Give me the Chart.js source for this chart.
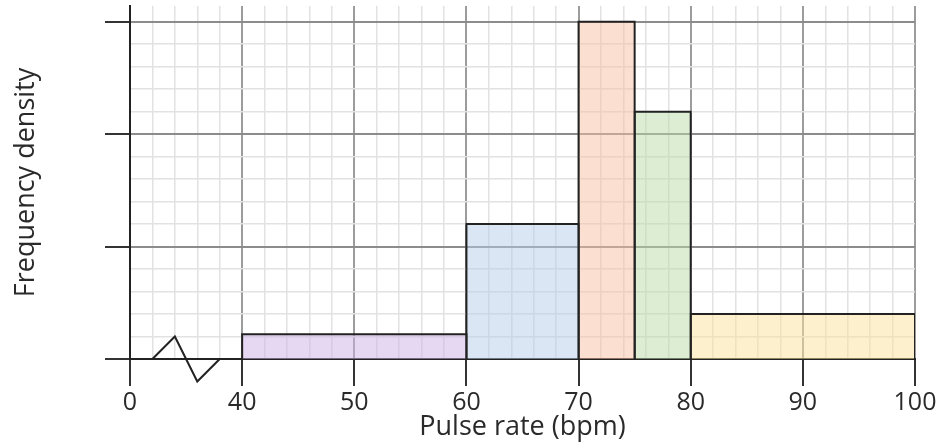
<!DOCTYPE html>
<html>
<head>
<meta charset="utf-8">
<script src="https://cdn.jsdelivr.net/npm/chart.js@4/dist/chart.umd.min.js"></script>
<style>
  html, body { margin: 0; padding: 0; background: #fff; }
  #wrap { width: 945px; height: 444px; position: relative; }
</style>
</head>
<body>
<div id="wrap"><canvas id="hist"></canvas></div>
<script>
// Histogram data: class boundaries and frequency density per class
const classEdges = [40, 60, 70, 75, 80, 100];
const densities = [0.22, 1.2, 3.0, 2.2, 0.4];
const barFills = ['rgba(205,177,229,0.5)', 'rgba(181,205,231,0.5)', 'rgba(247,193,165,0.5)',
                  'rgba(185,219,169,0.5)', 'rgba(251,225,153,0.5)'];

// x axis: position 30 stands for 0 (axis break between 0 and 40)
const xTickPositions = [30, 40, 50, 60, 70, 80, 90, 100];
const xTickLabels = ['0', '40', '50', '60', '70', '80', '90', '100'];

// zig-zag break symbol
const breakX = [32, 34, 36, 38];
const breakY = [0, 0.2, -0.2, 0];

const isMajorX = v => xTickPositions.includes(Math.round(v * 1000) / 1000);
const isMajorY = v => Math.abs(v - Math.round(v)) < 1e-6;

const fontFamily = '"Open Sans", "DejaVu Sans", sans-serif';
const tickFont = { family: fontFamily, size: 25 };
const titleFont = { family: fontFamily, size: 27 };
const textColor = '#2a2a2a';

const datasets = densities.map((d, i) => ({
    data: [
        { x: classEdges[i], y: 0 },
        { x: classEdges[i], y: d },
        { x: classEdges[i + 1], y: d },
        { x: classEdges[i + 1], y: 0 }
    ],
    borderColor: '#222',
    borderWidth: 2,
    backgroundColor: barFills[i],
    fill: 'origin',
    pointRadius: 0,
    tension: 0,
    borderJoinStyle: 'miter'
}));

datasets.push({
    data: breakX.map((x, i) => ({ x, y: breakY[i] })),
    borderColor: '#222',
    borderWidth: 2,
    fill: false,
    pointRadius: 0,
    tension: 0,
    clip: false
});

new Chart(document.getElementById('hist'), {
    type: 'line',
    data: { datasets },
    options: {
        responsive: true,
        maintainAspectRatio: false,
        animation: false,
        layout: { padding: { top: 6, right: 30, left: 0, bottom: 0 } },
        plugins: { legend: { display: false }, tooltip: { enabled: false } },
        scales: {
            x: {
                type: 'linear',
                min: 30,
                max: 100,
                afterFit: s => { s.height = 85; },
                ticks: {
                    stepSize: 2,
                    autoSkip: false,
                    maxRotation: 0,
                    includeBounds: false,
                    padding: 2,
                    font: tickFont,
                    color: textColor,
                    callback: v => {
                        const k = xTickPositions.indexOf(Math.round(v * 1000) / 1000);
                        return k >= 0 ? xTickLabels[k] : '';
                    }
                },
                grid: {
                    color: c => isMajorX(c.tick.value) ? '#9c9c9c' : '#e2e2e2',
                    lineWidth: c => isMajorX(c.tick.value) ? 2 : 1.5,
                    tickColor: c => isMajorX(c.tick.value) ? '#333' : 'rgba(0,0,0,0)',
                    tickLength: 27,
                    tickWidth: 2
                },
                border: { color: '#222', width: 2 },
                title: { display: true, text: 'Pulse rate (bpm)', font: titleFont, color: textColor, padding: 0 }
            },
            y: {
                type: 'linear',
                min: 0,
                max: 3.14,
                afterFit: s => { s.width = 130; },
                ticks: { stepSize: 0.2, includeBounds: false, display: false },
                grid: {
                    color: c => isMajorY(c.tick.value) ? '#8c8c8c' : '#e2e2e2',
                    lineWidth: c => isMajorY(c.tick.value) ? 2 : 1.5,
                    tickColor: c => isMajorY(c.tick.value) ? '#333' : 'rgba(0,0,0,0)',
                    tickLength: 25,
                    tickWidth: 2
                },
                border: { color: '#222', width: 2 },
                title: { display: true, text: 'Frequency density', font: titleFont, color: textColor, padding: { top: 10, bottom: 0 } }
            }
        }
    }
});
</script>
</body>
</html>
